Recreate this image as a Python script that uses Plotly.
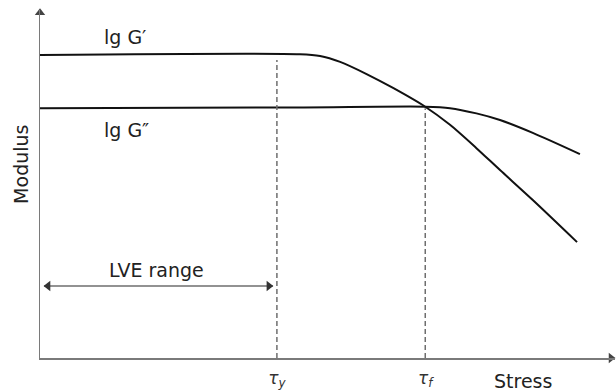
import plotly.graph_objects as go

# ---- data (stress in arbitrary units, modulus as lg value) ----
stress_gp = [0.0, 4.52, 4.87, 5.22, 5.68, 6.14, 6.70, 7.13, 7.59, 8.00, 8.57, 9.34]
lg_g_prime = [8.71, 8.73, 8.68, 8.51, 8.16, 7.76, 7.22, 6.70, 6.03, 5.40, 4.54, 3.33]

stress_gpp = [0.0, 4.52, 6.70, 7.13, 7.59, 8.00, 8.57, 9.39]
lg_g_dprime = [7.18, 7.20, 7.22, 7.18, 7.03, 6.84, 6.47, 5.86]

tau_y = 4.12
tau_f = 6.70
tau_tops = [8.56, 7.18]
tick_vals = [tau_y, tau_f]
tick_text = ["<i>τ<sub>y</sub></i>", "<i>τ<sub>f</sub></i>"]

lve_start, lve_end, lve_level = 0.07, 4.05, 2.07

FONT = "DejaVu Sans"
BLACK = "#111111"
GRAY = "#6e6e6e"
AXIS = "#7a7a7a"

fig = go.Figure()

fig.add_trace(go.Scatter(x=stress_gp, y=lg_g_prime, mode="lines",
                         line=dict(color=BLACK, width=2, shape="spline", smoothing=0.8),
                         hoverinfo="skip", showlegend=False))
fig.add_trace(go.Scatter(x=stress_gpp, y=lg_g_dprime, mode="lines",
                         line=dict(color=BLACK, width=2, shape="spline", smoothing=0.8),
                         hoverinfo="skip", showlegend=False))

for tx, top in zip([tau_y, tau_f], tau_tops):
    fig.add_trace(go.Scatter(x=[tx, tx], y=[0, top], mode="lines",
                             line=dict(color=GRAY, width=1.5, dash="5px,3px"),
                             hoverinfo="skip", showlegend=False))

# LVE range double arrow
fig.add_trace(go.Scatter(x=[lve_start, lve_end], y=[lve_level, lve_level], mode="lines",
                         line=dict(color=GRAY, width=1.5),
                         hoverinfo="skip", showlegend=False))
fig.add_trace(go.Scatter(x=[lve_start + 0.07, lve_end - 0.07], y=[lve_level, lve_level],
                         mode="markers",
                         marker=dict(symbol=["triangle-left", "triangle-right"], size=9,
                                     color="#333", line=dict(width=0)),
                         hoverinfo="skip", showlegend=False, cliponaxis=False))

# axis arrowheads
fig.add_trace(go.Scatter(x=[9.93, 0], y=[0, 9.92], mode="markers",
                         marker=dict(symbol=["triangle-right", "triangle-up"], size=9,
                                     color="#444", line=dict(width=0)),
                         hoverinfo="skip", showlegend=False, cliponaxis=False))

annotations = [
    dict(x=2.03, y=2.53, xref="x", yref="y", text="LVE range", showarrow=False,
         font=dict(family=FONT, size=19, color="#222")),
    dict(x=1.48, y=9.22, xref="x", yref="y", text="lg G\u2032", showarrow=False,
         font=dict(family=FONT, size=19, color="#222")),
    dict(x=1.50, y=6.55, xref="x", yref="y", text="lg G\u2033", showarrow=False,
         font=dict(family=FONT, size=19, color="#222")),
    dict(x=-0.033, y=0.555, xref="paper", yref="paper", text="Modulus", showarrow=False,
         xanchor="center", yanchor="middle",
         textangle=-90, font=dict(family=FONT, size=19, color="#222")),
    dict(x=0.84, y=-0.066, xref="paper", yref="paper", text="Stress", showarrow=False,
         xanchor="center", yanchor="middle",
         font=dict(family=FONT, size=19, color="#222")),
]

fig.update_layout(
    width=616, height=392,
    margin=dict(l=40, r=1, t=10, b=34, autoexpand=False),
    paper_bgcolor="white", plot_bgcolor="white",
    annotations=annotations,
    xaxis=dict(range=[0, 10], showgrid=False, zeroline=False, showline=True,
               linecolor=AXIS, linewidth=1.5,
               tickvals=tick_vals, ticktext=tick_text, ticks="",
               ticklabelstandoff=4,
               tickfont=dict(family=FONT, size=17, color="#333")),
    yaxis=dict(range=[0, 10], showgrid=False, zeroline=False, showline=True,
               linecolor=AXIS, linewidth=1.5,
               showticklabels=False, ticks=""),
)

fig.write_html("out.html",
               config={"displayModeBar": False, "staticPlot": True},
               post_script="document.body.style.margin='0';"
                           "document.body.style.overflow='hidden';")
